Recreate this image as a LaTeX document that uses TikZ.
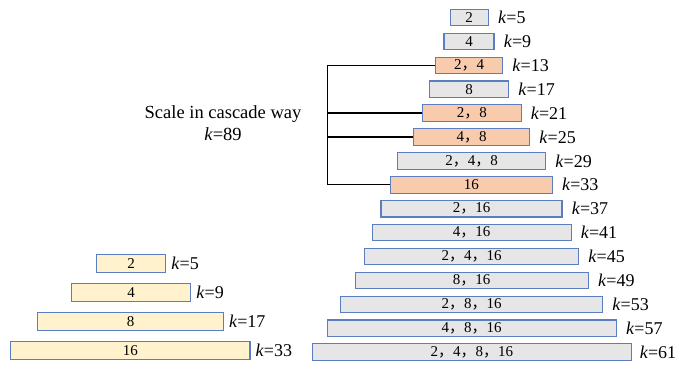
\documentclass[tikz,border=0pt]{standalone}
\usepackage{fontspec}
\setmainfont{Liberation Serif}
\newfontfamily\cjk{Noto Sans CJK SC}
\newcommand{\fc}{{\cjk ，}}
\definecolor{bordblue}{HTML}{5B7DC2}
\definecolor{greyfill}{HTML}{E7E6E6}
\definecolor{orangefill}{HTML}{F8CBAD}
\definecolor{yellowfill}{HTML}{FFF2CC}
\tikzset{
  boxbase/.style={draw=bordblue, line width=1.1pt, rectangle, inner sep=0pt, font=\fontsize{15}{17}\selectfont},
  gbox/.style={boxbase, fill=greyfill, minimum height=16.5pt},
  obox/.style={boxbase, fill=orangefill, minimum height=16.5pt},
  ybox/.style={boxbase, fill=yellowfill, minimum height=18pt},
  klab/.style={anchor=west, inner sep=0pt, font=\fontsize{18}{20}\selectfont},
  bracket/.style={draw=black, line width=1.3pt},
  titletext/.style={anchor=base, inner sep=0pt, font=\fontsize{18.5}{22}\selectfont}
}
\begin{document}
\begin{tikzpicture}[x=1pt,y=-1pt]
\useasboundingbox (0,0) rectangle (677,364);
% right stack
\node[gbox, minimum width=38.3pt] (r1) at (469.2,17.5) {2};
\node[gbox, minimum width=50pt] (r2) at (469,41.4) {4};
\node[obox, minimum width=67.4pt] (r3) at (469,65.3) {2\fc4};
\node[gbox, minimum width=79.4pt] (r4) at (469,89.2) {8};
\node[obox, minimum width=98.3pt] (r5) at (471.9,113.1) {2\fc8};
\node[obox, minimum width=116pt] (r6) at (471.7,137.0) {4\fc8};
\node[gbox, minimum width=148pt] (r7) at (471.7,160.9) {2\fc4\fc8};
\node[obox, minimum width=162pt] (r8) at (471.3,184.8) {16};
\node[gbox, minimum width=181pt] (r9) at (471.5,208.7) {2\fc16};
\node[gbox, minimum width=198.7pt] (r10) at (471.7,232.6) {4\fc16};
\node[gbox, minimum width=214.4pt] (r11) at (471.5,256.5) {2\fc4\fc16};
\node[gbox, minimum width=233.3pt] (r12) at (471.7,280.4) {8\fc16};
\node[gbox, minimum width=262.4pt] (r13) at (471.5,304.3) {2\fc8\fc16};
\node[gbox, minimum width=289.3pt] (r14) at (471.7,328.2) {4\fc8\fc16};
\node[gbox, minimum width=318.3pt] (r15) at (471.9,352.1) {2\fc4\fc8\fc16};
\node[klab, xshift=9pt] (k1) at (r1.east) {\textit{k}=5};
\node[klab, xshift=9pt] (k2) at (r2.east) {\textit{k}=9};
\node[klab, xshift=9pt] (k3) at (r3.east) {\textit{k}=13};
\node[klab, xshift=9pt] (k4) at (r4.east) {\textit{k}=17};
\node[klab, xshift=9pt] (k5) at (r5.east) {\textit{k}=21};
\node[klab, xshift=9pt] (k6) at (r6.east) {\textit{k}=25};
\node[klab, xshift=9pt] (k7) at (r7.east) {\textit{k}=29};
\node[klab, xshift=9pt] (k8) at (r8.east) {\textit{k}=33};
\node[klab, xshift=9pt] (k9) at (r9.east) {\textit{k}=37};
\node[klab, xshift=9pt] (k10) at (r10.east) {\textit{k}=41};
\node[klab, xshift=9pt] (k11) at (r11.east) {\textit{k}=45};
\node[klab, xshift=9pt] (k12) at (r12.east) {\textit{k}=49};
\node[klab, xshift=9pt] (k13) at (r13.east) {\textit{k}=53};
\node[klab, xshift=9pt] (k14) at (r14.east) {\textit{k}=57};
\node[klab, xshift=8pt] (k15) at (r15.east) {\textit{k}=61};
% left stack
\node[ybox, minimum width=69pt] (l1) at (131.2,263.5) {2};
\node[ybox, minimum width=119.4pt] (l2) at (131,292.5) {4};
\node[ybox, minimum width=185.6pt] (l3) at (130.5,321.2) {8};
\node[ybox, minimum width=239.3pt] (l4) at (130.3,350.5) {16};
\node[klab, xshift=5pt] (lk1) at (l1.east) {\textit{k}=5};
\node[klab, xshift=5pt] (lk2) at (l2.east) {\textit{k}=9};
\node[klab, xshift=5pt] (lk3) at (l3.east) {\textit{k}=17};
\node[klab, xshift=5pt] (lk4) at (l4.east) {\textit{k}=33};
% title
\node[titletext] (t1) at (223,118.3) {Scale in cascade way};
\node[titletext] (t2) at (223,140) {\textit{k}=89};
% bracket
\coordinate (bx) at (327.3,0);
\draw[bracket] (r3.west) -- (r3.west -| bx) -- (r8.west -| bx) -- (r8.west);
\draw[bracket] (r5.west -| bx) -- (r5.west);
\draw[bracket] (r6.west -| bx) -- (r6.west);
\end{tikzpicture}
\end{document}
